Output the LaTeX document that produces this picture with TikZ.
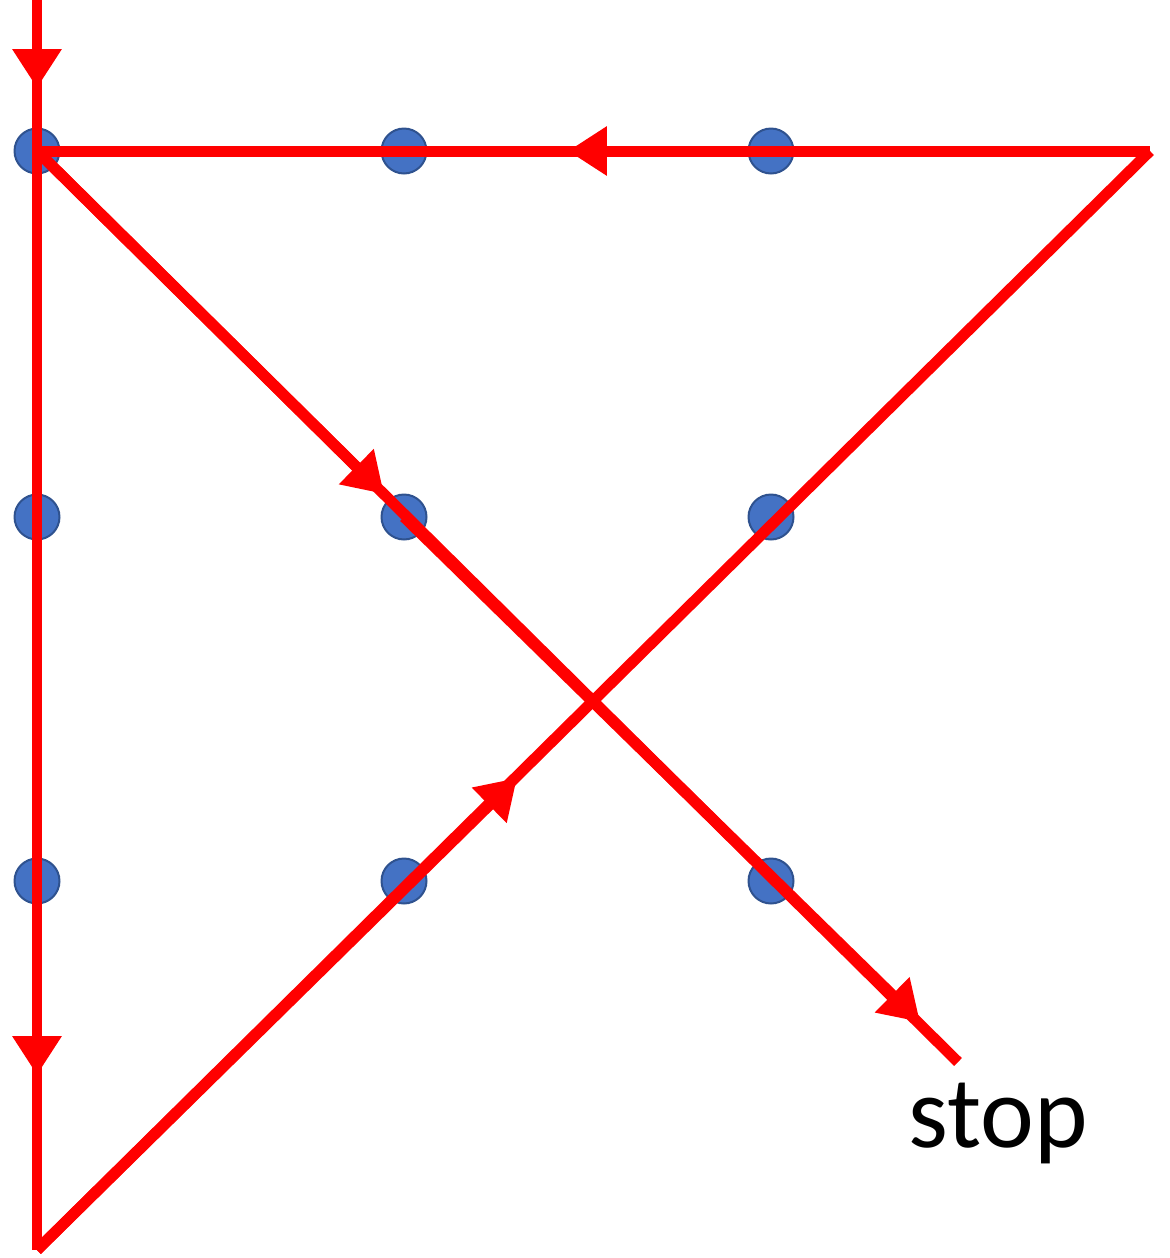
\documentclass[tikz,border=0pt]{standalone}
\usetikzlibrary{arrows.meta,calc}
\usepackage{fontspec}
\setmainfont{Carlito}
\definecolor{dotblue}{HTML}{4472C4}
\definecolor{dotborder}{HTML}{2F528F}
\definecolor{pathred}{HTML}{FF0000}
\begin{document}
\begin{tikzpicture}[x=0.02cm,y=-0.02cm,
  dot/.style={circle,minimum size=0.9cm,inner sep=0pt,fill=dotblue,draw=dotborder,line width=0.04cm},
  redline/.style={draw=pathred,line width=0.22cm,line cap=butt},
  tipped/.style={redline,-{Triangle[length=0.78cm,width=0.94cm]}},
  label/.style={font=\fontsize{58}{64}\selectfont,inner sep=0pt,anchor=base west}]
\useasboundingbox (0,0) rectangle (1170,1258);
% dots
\node[dot] (d11) at (37,151) {};
\node[dot] (d12) at (404,151) {};
\node[dot] (d13) at (771,151) {};
\node[dot] (d21) at (37,517) {};
\node[dot] (d22) at (404,517) {};
\node[dot] (d23) at (771,517) {};
\node[dot] (d31) at (37,881) {};
\node[dot] (d32) at (404,881) {};
\node[dot] (d33) at (771,881) {};
% path corners
\coordinate (start) at (37,0);
\coordinate (bl) at (37,1250);
\coordinate (tr) at (1150,151);
\coordinate (finish) at (958,1062);
% arrow tips
\coordinate (a1) at (37,88);
\coordinate (a2) at (37,1075);
\coordinate (a3) at (568,151);
\coordinate (a4) at (384,494);
\coordinate (a5) at (517,778);
\coordinate (a6) at (920,1022);
% path
\draw[redline] (start) -- (bl);
\draw[redline] (bl) -- (tr);
\draw[redline] (tr) -- (d11.center);
\draw[redline] (d11.center) -- (finish);
% arrowheads
\draw[tipped] (start) -- (a1);
\draw[tipped] (d21.center) -- (a2);
\draw[tipped] (d13.center) -- (a3);
\draw[tipped] (d11.center) -- (a4);
\draw[tipped] (bl) -- (a5);
\draw[tipped] (d22.center) -- (a6);
% label
\node[label] (stop) at (908,1147) {stop};
\end{tikzpicture}
\end{document}
